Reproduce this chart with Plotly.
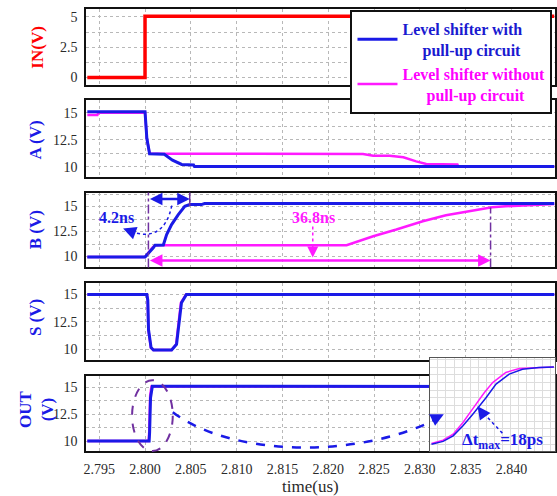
import plotly.graph_objects as go

W, H = 557, 496

# ---------------- data ----------------
t_in = [2.7937, 2.8000, 2.8000, 2.8447]
v_in = [0.0, 0.0, 5.05, 5.05]

t_a_blue = [2.7937, 2.8000, 2.8002, 2.8004, 2.8005, 2.8021, 2.8030, 2.8040, 2.8053, 2.8054, 2.8447]
v_a_blue = [15.1, 15.1, 12.6, 11.5, 11.2, 11.15, 10.6, 10.2, 10.15, 10.0, 10.0]
t_a_mag = [2.7937, 2.7948, 2.7949, 2.8000, 2.8002, 2.8004, 2.8005, 2.8238, 2.8249, 2.8267,
           2.8282, 2.8296, 2.8307, 2.8341, 2.8342, 2.8447]
v_a_mag = [14.8, 14.8, 15.0, 15.0, 12.6, 11.5, 11.2, 11.18, 11.0, 11.0,
           10.86, 10.49, 10.25, 10.19, 10.0, 10.0]

t_b_blue = [2.7937, 2.8000, 2.8009, 2.8011, 2.8020, 2.80236, 2.8029, 2.80363, 2.80434, 2.80488,
            2.80615, 2.8065, 2.8447]
v_b_blue = [9.95, 9.95, 10.87, 11.13, 11.15, 12.2, 13.2, 14.2, 15.03, 15.2, 15.2, 15.3, 15.3]
t_b_mag = [2.7937, 2.8000, 2.8008, 2.8011, 2.8220, 2.82491, 2.82744, 2.83032, 2.83285, 2.83537,
           2.83789, 2.83934, 2.84259, 2.8447]
v_b_mag = [9.95, 9.95, 10.9, 11.13, 11.13, 12.03, 12.7, 13.53, 14.13, 14.53, 14.93, 15.03, 15.2, 15.27]

t_s_blue = [2.7937, 2.8002, 2.8003, 2.80038, 2.80066, 2.80092, 2.8029, 2.80344, 2.80363, 2.80398,
            2.80452, 2.8447]
v_s_blue = [15.0, 15.0, 14.5, 11.8, 10.15, 9.94, 9.94, 10.45, 11.8, 14.25, 15.0, 15.0]
t_s_mag = [2.7937, 2.8002, 2.8003, 2.80036, 2.80064, 2.8009, 2.8029, 2.80340, 2.80358, 2.80392,
           2.80448, 2.8447]
v_s_mag = [15.0, 15.0, 14.5, 11.8, 10.15, 9.94, 9.94, 10.45, 11.8, 14.25, 15.0, 15.0]

t_out_blue = [2.7937, 2.80045, 2.8005, 2.8006, 2.8008, 2.8447]
v_out_blue = [10.0, 10.0, 10.8, 14.0, 15.08, 15.05]
t_out_mag = [2.7937, 2.8004, 2.80046, 2.80056, 2.8007, 2.8447]
v_out_mag = [10.0, 10.0, 10.9, 14.2, 15.05, 15.05]

# zoomed inset of the OUT rising edge (ps, V)
ps_zoom = [7, 59, 104, 148, 192, 222, 252, 296, 355, 414, 488, 555]
v_zoom_blue = [10.0, 10.18, 10.54, 11.19, 11.95, 12.49, 13.03, 13.90, 14.55, 14.87, 14.98, 15.02]
ps_zoom_mag = [7, 59, 104, 148, 185, 214, 244, 281, 340, 400, 488, 555]
v_zoom_mag = [10.05, 10.26, 10.65, 11.41, 12.16, 12.77, 13.36, 14.0, 14.66, 14.92, 15.0, 15.02]

x_ticks = [2.795, 2.800, 2.805, 2.810, 2.815, 2.820, 2.825, 2.830, 2.835, 2.840]
in_ticks = [0, 2.5, 5]
hv_ticks = [10, 12.5, 15]

# markers for the annotations (us)
t_start = 2.80037
t_end_with = 2.80488
t_end_without = 2.83772

# ---------------- styling ----------------
BLUE = "#1a1ae6"
MAG = "#ff1aff"
RED = "#ff0000"
PURPLE = "#7030a0"
SERIF = "Liberation Serif"
GRID = "#b8b8b8"


def P(x, y):
    return x / W, 1 - y / H


XD = [84 / W, 555.5 / W]
panels = [(9, 85), (100, 177), (193, 268), (284, 361), (377, 452)]
yranges = [[-0.6, 5.65], [9.07, 16.2], [8.9, 16.4], [9.0, 16.0], [9.07, 16.0]]

fig = go.Figure()

layout = dict(
    width=W, height=H, margin=dict(l=0, r=0, t=0, b=0),
    paper_bgcolor="white", plot_bgcolor="white",
    font=dict(family=SERIF, size=14, color="#333333"),
    showlegend=True,
)

for i, ((top, bot), yr) in enumerate(zip(panels, yranges)):
    n = "" if i == 0 else str(i + 1)
    layout["xaxis" + n] = dict(
        domain=XD, range=[2.7936, 2.8447], anchor="y" + n,
        tickmode="array", tickvals=x_ticks, ticktext=[f"{v:.3f}" for v in x_ticks],
        showticklabels=(i == 4), showgrid=True, gridcolor=GRID, griddash="dot", gridwidth=1,
        showline=True, mirror=True, linecolor="#111111", linewidth=2, zeroline=False,
        ticks="", tickfont=dict(family=SERIF, size=14, color="#2a2a2a"),
        ticklabelstandoff=4,
        matches=None if i == 0 else "x",
    )
    ticks = in_ticks if i == 0 else hv_ticks
    layout["yaxis" + n] = dict(
        domain=[1 - bot / H, 1 - top / H], range=yr, anchor="x" + n,
        tickmode="array", tickvals=ticks, ticktext=[("%g" % v) for v in ticks],
        showgrid=True, gridcolor=GRID, griddash="dot", gridwidth=1,
        minor=dict(tickmode="linear", tick0=ticks[0], dtick=1.25, showgrid=True,
                   gridcolor=GRID, griddash="dot", gridwidth=1),
        showline=True, mirror=True, linecolor="#111111", linewidth=2, zeroline=False,
        ticks="", tickfont=dict(family=SERIF, size=14, color="#2a2a2a"),
        ticklabelstandoff=4,
    )

# inset axes
layout["xaxis6"] = dict(domain=[430 / W, 556 / W], range=[0, 560], anchor="y6",
                        showticklabels=False, showgrid=True, gridcolor="#dddddd", dtick=36,
                        showline=True, mirror=True, linecolor="#555555", linewidth=1,
                        zeroline=False, ticks="")
layout["yaxis6"] = dict(domain=[1 - 452 / H, 1 - 359 / H], range=[9.55, 15.58], anchor="x6",
                        showticklabels=False, showgrid=True, gridcolor="#dddddd", dtick=0.5,
                        showline=True, mirror=True, linecolor="#555555", linewidth=1,
                        zeroline=False, ticks="")

fig.update_layout(**layout)

# ---------------- traces ----------------
def line(x, y, color, w, xa, ya, name=None, legend=False, rank=None):
    fig.add_trace(go.Scatter(
        x=x, y=y, mode="lines", line=dict(color=color, width=w, shape="linear"),
        xaxis=xa, yaxis=ya, name=name, showlegend=legend, hoverinfo="skip",
        legendrank=rank if rank else 1000,
    ))


NB = "&nbsp;"
line(t_in, v_in, RED, 3.5, "x", "y")
line(t_a_mag, v_a_mag, MAG, 2.5, "x2", "y2",
     name="<b><span style='color:#ff00ff'>Level shifter without</span></b><br>"
          "<b><span style='color:#ff00ff'>" + NB * 6 + "pull-up circuit</span></b>",
     legend=True, rank=2)
line(t_a_blue, v_a_blue, BLUE, 3, "x2", "y2",
     name="<b><span style='color:#1a1ad0'>Level shifter with</span></b><br>"
          "<b><span style='color:#1a1ad0'>" + NB * 5 + "pull-up circuit</span></b>",
     legend=True, rank=1)
line(t_b_mag, v_b_mag, MAG, 2.5, "x3", "y3")
line(t_b_blue, v_b_blue, BLUE, 3, "x3", "y3")
line(t_s_mag, v_s_mag, MAG, 2.5, "x4", "y4")
line(t_s_blue, v_s_blue, BLUE, 3, "x4", "y4")
line(t_out_mag, v_out_mag, MAG, 2.5, "x5", "y5")
line(t_out_blue, v_out_blue, BLUE, 3, "x5", "y5")
line(ps_zoom_mag, v_zoom_mag, MAG, 1.5, "x6", "y6")
line(ps_zoom, v_zoom_blue, BLUE, 1.5, "x6", "y6")

fig.update_layout(legend=dict(
    x=350 / W, y=1 - 10 / H, xanchor="left", yanchor="top",
    bgcolor="white", bordercolor="#111111", borderwidth=2,
    font=dict(family=SERIF, size=16), itemwidth=40, valign="middle",
    tracegroupgap=4,
))

# ---------------- annotations ----------------
ann = []
# y titles
for text, color, x, y in [("IN(V)", RED, 35, 47), ("A (V)", BLUE, 33, 140),
                          ("B (V)", BLUE, 33, 230), ("S (V)", BLUE, 33, 318),
                          ("OUT<br>(V)", BLUE, 33, 410)]:
    px, py = P(x, y)
    ann.append(dict(x=px, y=py, xref="paper", yref="paper", text="<b>" + text + "</b>",
                    textangle=-90, showarrow=False, font=dict(family=SERIF, size=17, color=color),
                    xanchor="center", yanchor="middle"))
px, py = P(310, 487)
ann.append(dict(x=px, y=py, xref="paper", yref="paper", text="time(us)", showarrow=False,
                xanchor="center", yanchor="middle",
                font=dict(family=SERIF, size=17, color="#2a2a2a")))

# B panel measurement arrows
ann.append(dict(x=t_end_with, y=15.75, ax=t_start, ay=15.75, xref="x3", yref="y3",
                axref="x3", ayref="y3", showarrow=True, arrowside="end+start", arrowhead=2,
                arrowsize=1, arrowwidth=2.5, arrowcolor=BLUE, text=""))
ann.append(dict(x=t_end_without, y=9.6, ax=t_start, ay=9.6, xref="x3", yref="y3",
                axref="x3", ayref="y3", showarrow=True, arrowside="end+start", arrowhead=2,
                arrowsize=1, arrowwidth=2.5, arrowcolor=MAG, text=""))
ann.append(dict(x=2.79684, y=13.9, xref="x3", yref="y3", text="<b>4.2ns</b>", showarrow=False,
                xanchor="center", yanchor="middle",
                font=dict(family=SERIF, size=16, color=BLUE)))
ann.append(dict(x=2.81838, y=13.9, xref="x3", yref="y3", text="<b>36.8ns</b>", showarrow=False,
                xanchor="center", yanchor="middle",
                font=dict(family=SERIF, size=16, color=MAG)))
# small arrowheads for dotted leaders
for (hx, hy), (dx, dy), col in [((121, 229), (8, 3), BLUE), ((312, 258), (0, -9), MAG),
                                ((478, 407), (5, 7), BLUE), ((444, 415), (-12, 6), BLUE)]:
    px, py = P(hx, hy)
    ann.append(dict(x=px, y=py, xref="paper", yref="paper", ax=dx, ay=dy, text="",
                    showarrow=True, arrowhead=2, arrowsize=1.1 if col == MAG else 1.3,
                    arrowwidth=2, arrowcolor=col, standoff=0))
px, py = P(503, 442)
ann.append(dict(x=px, y=py, xref="paper", yref="paper",
                text="<b>Δt<sub>max</sub>=18ps</b>", showarrow=False,
                xanchor="center", yanchor="middle",
                font=dict(family=SERIF, size=17, color=BLUE)))
fig.update_layout(annotations=ann)

# ---------------- shapes ----------------
shapes = []
shapes.append(dict(type="line", xref="x3", yref="y3 domain", x0=t_start, x1=t_start, y0=0, y1=1,
                   line=dict(color=PURPLE, width=1.5, dash="dashdot")))
shapes.append(dict(type="line", xref="x3", yref="y3 domain", x0=t_end_with, x1=t_end_with,
                   y0=0.82, y1=1, line=dict(color=PURPLE, width=1.5)))
shapes.append(dict(type="line", xref="x3", yref="y3", x0=t_end_without, x1=t_end_without,
                   y0=8.9, y1=14.9, line=dict(color=PURPLE, width=1.5, dash="dashdot")))


def path(pts, cmd):
    s = ""
    for c, pt in zip(cmd, pts):
        px, py = P(*pt)
        s += f"{c}{px:.5f},{py:.5f} "
    return s.strip()


# curved dotted leader for 4.2ns
shapes.append(dict(type="path", xref="paper", yref="paper",
                   path=path([(170, 206), (162, 245), (126, 231)], ["M", "Q", " "]),
                   line=dict(color=BLUE, width=1.5, dash="dot")))
# vertical dotted leader for 36.8ns
px0, py0 = P(312, 227)
px1, py1 = P(312, 252)
shapes.append(dict(type="line", xref="paper", yref="paper", x0=px0, y0=py0, x1=px1, y1=py1,
                   line=dict(color=MAG, width=1.5, dash="dot")))
# ellipse around OUT edge
ex0, ey0 = P(130, 452)
ex1, ey1 = P(171, 381)
shapes.append(dict(type="circle", xref="paper", yref="paper", x0=ex0, y0=ey0, x1=ex1, y1=ey1,
                   line=dict(color=PURPLE, width=2, dash="dash")))
# dashed connector to inset
shapes.append(dict(type="path", xref="paper", yref="paper",
                   path=path([(171, 413), (230, 458), (360, 460), (438, 419)], ["M", "C", " ", " "]),
                   line=dict(color=BLUE, width=2.5, dash="dash")))
# dotted leader for delta t
px0, py0 = P(503, 434)
px1, py1 = P(483, 413)
shapes.append(dict(type="line", xref="paper", yref="paper", x0=px0, y0=py0, x1=px1, y1=py1,
                   line=dict(color=BLUE, width=1.5, dash="dot")))
fig.update_layout(shapes=shapes)

fig.write_html("out.html")
